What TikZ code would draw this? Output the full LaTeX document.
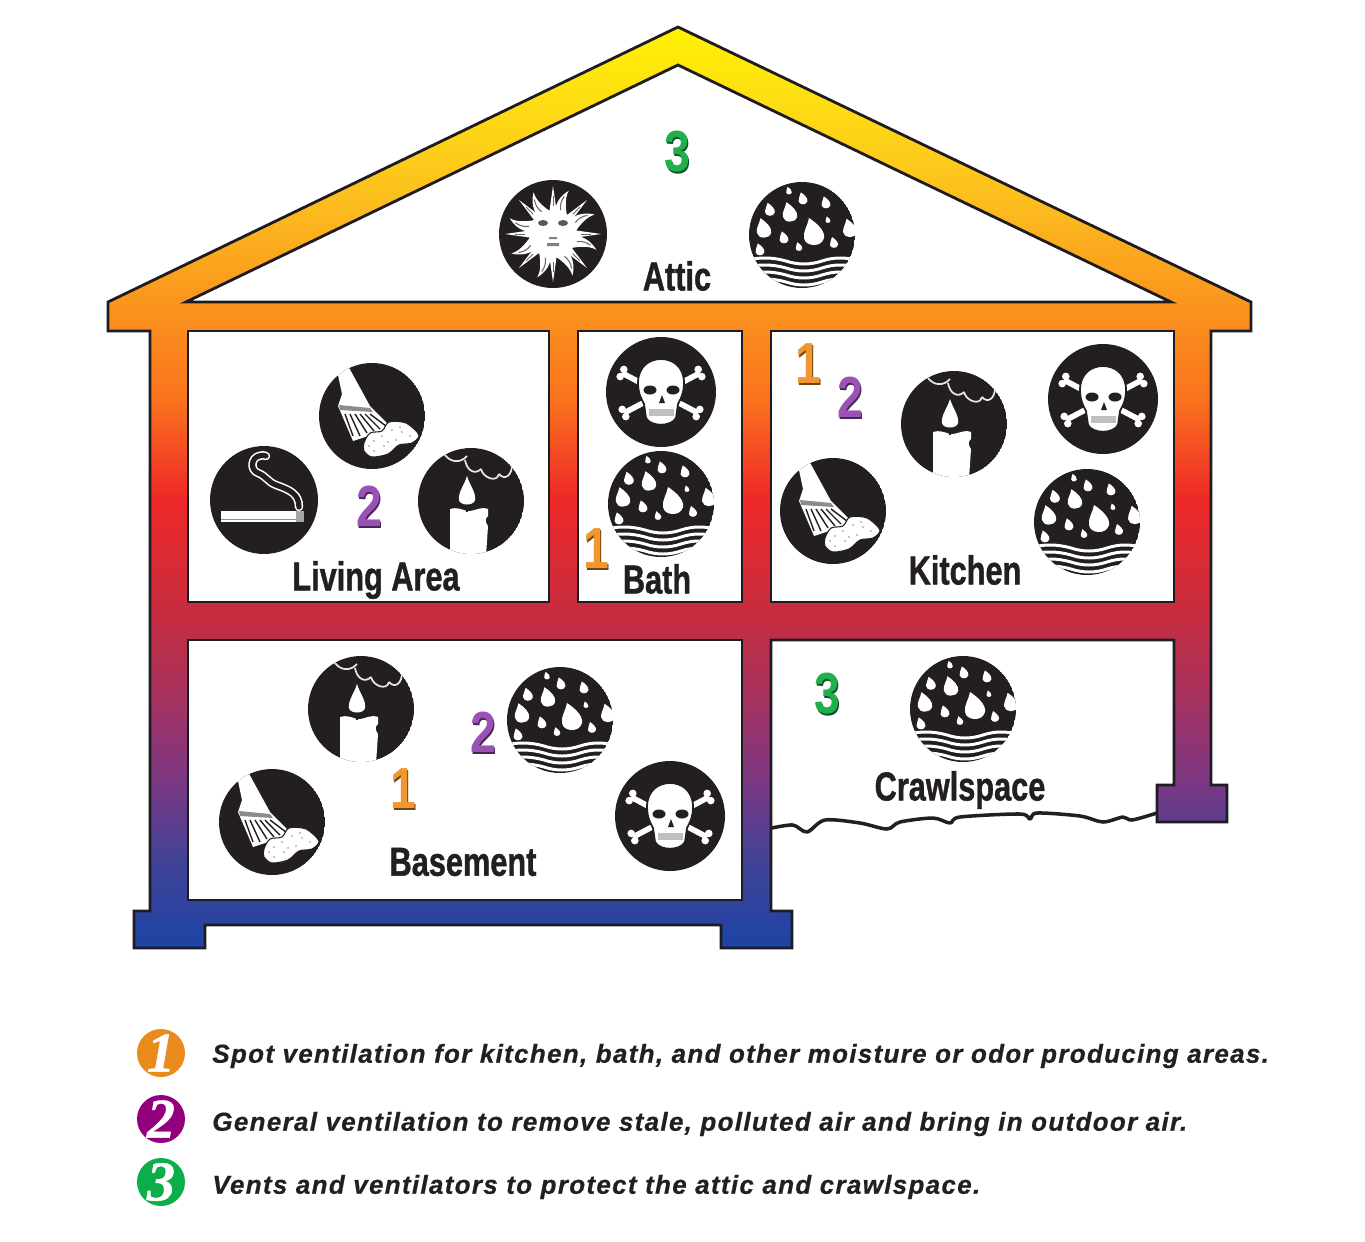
\documentclass[tikz,border=0pt]{standalone}
\usepackage{fontspec}
\setmainfont{Liberation Sans}
\newfontfamily\legendfont[LetterSpace=5.0,BoldItalicFeatures={FakeBold=0.6}]{Liberation Sans}
\newfontfamily\labelfont[BoldFeatures={FakeBold=1.2}]{Liberation Sans}
\newfontfamily\badgefont[BoldItalicFeatures={FakeBold=0.8}]{Liberation Serif}
\definecolor{iconblack}{HTML}{231F20}
\definecolor{wallline}{HTML}{1E1C22}
\definecolor{mark1}{HTML}{F2962F}
\definecolor{mark2}{HTML}{9B52B8}
\definecolor{mark3}{HTML}{1FB04B}
\definecolor{badge1}{HTML}{E98A1C}
\definecolor{badge2}{HTML}{93007E}
\definecolor{badge3}{HTML}{0BAE49}
\pgfdeclareverticalshading{housefade}{100bp}{
  color(0bp)=(rgb,255:red,28;green,68;blue,165);
  color(25bp)=(rgb,255:red,28;green,68;blue,165);
  color(30bp)=(rgb,255:red,68;green,66;blue,150);
  color(34.2bp)=(rgb,255:red,125;green,55;blue,130);
  color(38.5bp)=(rgb,255:red,165;green,50;blue,95);
  color(42.9bp)=(rgb,255:red,197;green,45;blue,65);
  color(49.4bp)=(rgb,255:red,238;green,40;blue,38);
  color(54.8bp)=(rgb,255:red,250;green,115;blue,30);
  color(60.2bp)=(rgb,255:red,250;green,150;blue,30);
  color(65.6bp)=(rgb,255:red,252;green,190;blue,30);
  color(71bp)=(rgb,255:red,254;green,222;blue,20);
  color(75bp)=(rgb,255:red,255;green,242;blue,0);
  color(100bp)=(rgb,255:red,255;green,242;blue,0)}
\tikzset{
  wall/.style={draw=wallline,line width=1.6pt,line join=miter},
  roomlabel/.style={font=\labelfont\bfseries\fontsize{23}{25}\selectfont,text=iconblack,xscale=0.76,transform shape,inner sep=0pt},
  digitmark/.style={font=\bfseries\fontsize{33}{35}\selectfont,xscale=0.8,transform shape,inner sep=0pt},
  legendtext/.style={font=\legendfont\bfseries\itshape\fontsize{14.8}{16}\selectfont,text=iconblack,anchor=west,inner sep=0pt},
  legendbadge/.style={circle,minimum size=0.96cm,inner sep=0pt,text=white,font=\badgefont\bfseries\itshape\fontsize{32}{34}\selectfont},
  pics/rainicon/.style={code={
    \begin{scope}
      \clip (0,0) circle (53);
      \fill[iconblack] (0,0) circle (53);
      \foreach \dx/\dy/\ds in {12/-2/25,-12/-22/18,-38/-6/18,-32/-25/12,1/-36/11,24/-32/11,-18/3/11,-3/12/8,32/8/10,-42/15/11,26/-15/6,-13/-44/7,48/-6/17} {
        \begin{scope}[shift={(\dx,\dy)},scale=\ds]
          \fill[white] (-.2,-.6) .. controls (-.25,-.3) and (-.45,-.05) .. (-.4,.2) .. controls (-.35,.55) and (.3,.6) .. (.4,.2) .. controls (.45,-.1) and (.1,-.4) .. cycle;
        \end{scope}
      }
      \foreach \y in {26,33,40,47} {
        \draw[white,line width=1.7pt] (-58,\y) .. controls (-44,\y-4) and (-30,\y-4) .. (-16,\y) .. controls (-4,\y+4) and (8,\y+4) .. (20,\y) .. controls (32,\y-4) and (44,\y-4) .. (58,\y);
      }
    \end{scope}
  }},
  pics/skullicon/.style={code={
    \fill[iconblack] (0,0) circle (55);
    \foreach \ax/\ay/\bx/\by/\px in {-39/-19/37/21/-1.8,39/-19/-37/21/1.8} {
      \draw[white,line width=3.2pt] (\ax,\ay) -- (\bx,\by);
      \fill[white] (\ax+\px,\ay+3.6) circle (3.8) (\ax-\px,\ay-3.6) circle (3.8) (\bx+\px,\by+3.6) circle (3.8) (\bx-\px,\by-3.6) circle (3.8);
    }
    \filldraw[fill=white,draw=iconblack,line width=1pt] (-23,-9) .. controls (-23,-26) and (-11,-33) .. (0,-33) .. controls (11,-33) and (23,-26) .. (23,-9) .. controls (23,2) and (19,8) .. (17,12) -- (15,26) .. controls (10,35) and (-10,35) .. (-15,26) -- (-17,12) .. controls (-19,8) and (-23,2) .. (-23,-9) -- cycle;
    \fill[iconblack] (-11,-2) ellipse (6.5 and 4.5) (12,-2) ellipse (6.5 and 4.5);
    \fill[iconblack] (1,3) -- (4,11) -- (-2,11) -- cycle;
    \fill[black!25] (-12,17) rectangle (13,24);
  }},
  pics/broomicon/.style={code={
    \begin{scope}
      \clip (0,0) circle (53);
      \fill[iconblack] (0,0) circle (53);
      \fill[white] (-34,-41) -- (-25,-52) -- (-2,-10) -- (20,12) -- (-19,25) -- (-34,-10) -- (-30,-22) -- cycle;
      \fill[black!45] (-33,-11) -- (-2,-8) -- (1,-4) -- (-32,-6) -- cycle;
      \foreach \ax/\ay/\bx/\by in {-27/-2/-19/20,-22/-2/-12/20,-17/-2/-5/17,-12/-2/2/15,-7/-2/8/13,-2/-2/14/10} {
        \draw[iconblack,line width=.8pt] (\ax,\ay) -- (\bx,\by);
      }
      \filldraw[fill=white,draw=iconblack,line width=.6pt] plot[smooth cycle] coordinates {(-8,27) (-2,17) (10,15) (17,6) (34,7) (47,19) (40,27) (27,29) (16,38) (0,41) (-8,35)};
      \foreach \dx/\dy in {2/25,10/20,20/14,30/16,38/20,24/24,12/30,2/35,-3/30,16/26,28/11} {
        \fill[black!45] (\dx,\dy) circle (0.8);
      }
    \end{scope}
  }},
  pics/candleicon/.style={code={
    \begin{scope}
      \clip (0,0) circle (53);
      \fill[iconblack] (0,0) circle (53);
      \fill[white] (-21,8) .. controls (-15,6) and (-10,8) .. (-4,10) .. controls (2,11) and (10,5) .. (17,8) -- (17,15) .. controls (13,18) and (15,22) .. (17,25) -- (15,55) -- (-21,55) -- cycle;
      \draw[iconblack,line width=.9pt] (-4,5) -- (-4,11);
      \fill[white] (-4,-25) .. controls (-1,-15) and (5,-9) .. (4,-1) .. controls (3,5) and (-11,5) .. (-12,-1) .. controls (-13,-9) and (-7,-15) .. cycle;
      \draw[black!10,line width=1pt] (-26,-46) .. controls (-20,-38) and (-10,-38) .. (-4,-45) (-6,-41) .. controls (-4,-30) and (4,-26) .. (10,-32) (10,-32) .. controls (12,-23) and (26,-18) .. (28,-27) (28,-27) .. controls (34,-20) and (41,-26) .. (41,-36);
    \end{scope}
  }},
  pics/smokeicon/.style={code={
    \fill[iconblack] (0,0) circle (54);
    \fill[white] (-43,11) rectangle (40,22);
    \draw[black!45,line width=.4pt] (-43,19) -- (32,19);
    \fill[black!35] (32,11) rectangle (40,22);
    \draw[white,line width=.9pt,double=iconblack,double distance=3pt,line cap=round] (35,7) .. controls (35,-6) and (26,-10) .. (12,-15) .. controls (4,-18) and (2,-24) .. (-6,-27) .. controls (-14,-30) and (-13,-42) .. (-5,-44) .. controls (-2,-45) and (0,-45) .. (2,-44);
  }},
  pics/sunicon/.style={code={
    \fill[iconblack] (0,0) circle (54);
    \foreach \a in {0,45,...,315} {
      \begin{scope}[rotate=\a+22.5]
        \fill[white] (20,-6) .. controls (28,-10) and (38,-8) .. (46,-2) .. controls (38,-3) and (30,1) .. (22,6) -- cycle;
        \draw[black!60,line width=.6pt] (25,-2) .. controls (30,-5) and (34,-5) .. (39,-4);
      \end{scope}
      \begin{scope}[rotate=\a]
        \fill[white] (20,-4) -- (48,0) -- (20,4) -- cycle;
        \draw[black!60,line width=.5pt] (28,0) -- (38,0);
      \end{scope}
    }
    \fill[white] (0,0) circle (24);
    \fill[black!65] (-10,-11) ellipse (5 and 3) (10,-11) ellipse (5 and 3);
    \fill[black!50] (-4,3) rectangle (4,5) (-6,9) rectangle (6,12);
  }},
}
\newcommand{\roomdigit}[4]{
  \node[digitmark,text=#3!45!black] at (#2) [xshift=1.1pt,yshift=-1.1pt] {#4};
  \node[digitmark,text=#3] (#1) at (#2) {#4};
}
\begin{document}
\begin{tikzpicture}[x=0.02cm,y=-0.02cm]
  \fill[white] (0,0) rectangle (1365,1241);
  \useasboundingbox (0,0) rectangle (1365,1241);
  \shadedraw[wall,shading=housefade] (678,27) -- (1251,302) -- (1251,331) -- (1211,331) -- (1211,785) -- (1227,785) -- (1227,822) -- (1157,822) -- (1157,785) -- (1174,785) -- (1174,640) -- (771,640) -- (771,911) -- (792,911) -- (792,948) -- (721,948) -- (721,925) -- (205,925) -- (205,948) -- (134,948) -- (134,911) -- (150,911) -- (150,331) -- (108,331) -- (108,302) -- cycle;
  \filldraw[wall,fill=white] (678,65) -- (1171,302) -- (186,302) -- cycle;
  \filldraw[wall,fill=white] (188,331) rectangle (549,602);
  \filldraw[wall,fill=white] (578,331) rectangle (742,602);
  \filldraw[wall,fill=white] (771,331) rectangle (1174,602);
  \filldraw[wall,fill=white] (188,640) rectangle (742,900);
  \draw[iconblack,line width=2pt,line join=round] plot[smooth,tension=.5] coordinates {(772,828) (793,825) (807,832) (825,820) (860,823) (887,829) (900,822) (933,818) (950,823) (960,817) (1020,814) (1030,819) (1037,813) (1080,816) (1103,822) (1123,817) (1132,820) (1157,813)};

  \pic at (553,234) {sunicon};
  \pic at (802,235) {rainicon};
  \pic at (372,416) {broomicon};
  \pic at (264,500) {smokeicon};
  \pic at (471,501) {candleicon};
  \pic at (661,392) {skullicon};
  \pic at (661,504) {rainicon};
  \pic at (954,424) {candleicon};
  \pic at (1103,399) {skullicon};
  \pic at (833,511) {broomicon};
  \pic at (1087,522) {rainicon};
  \pic at (361,709) {candleicon};
  \pic at (560,720) {rainicon};
  \pic at (272,822) {broomicon};
  \pic at (670,816) {skullicon};
  \pic at (963,709) {rainicon};

  \roomdigit{atticvent}{677,152}{mark3}{3}
  \roomdigit{livinggen}{369,506}{mark2}{2}
  \roomdigit{bathspot}{596,549}{mark1}{1}
  \roomdigit{kitchenspot}{808,364}{mark1}{1}
  \roomdigit{kitchengen}{850,397}{mark2}{2}
  \roomdigit{basementgen}{483,732}{mark2}{2}
  \roomdigit{basementspot}{403,789}{mark1}{1}
  \roomdigit{crawlvent}{827,694}{mark3}{3}

  \node[roomlabel] (attic) at (677,276) {Attic};
  \node[roomlabel] (living) at (376,580) {Living Area};
  \node[roomlabel] (bath) at (657,579) {Bath};
  \node[roomlabel] (kitchen) at (965,570) {Kitchen};
  \node[roomlabel] (basement) at (463,862) {Basement};
  \node[roomlabel] (crawl) at (960,790) {Crawlspace};

  \node[legendbadge,fill=badge1] (spot) at (161,1053) {1};
  \node[legendbadge,fill=badge2] (general) at (161,1119) {2};
  \node[legendbadge,fill=badge3] (vents) at (161,1182) {3};
  \node[legendtext] (spottext) at (212,1056) {Spot ventilation for kitchen, bath, and other moisture or odor producing areas.};
  \node[legendtext] (generaltext) at (212,1124) {General ventilation to remove stale, polluted air and bring in outdoor air.};
  \node[legendtext] (ventstext) at (212,1187) {Vents and ventilators to protect the attic and crawlspace.};
\end{tikzpicture}
\end{document}
